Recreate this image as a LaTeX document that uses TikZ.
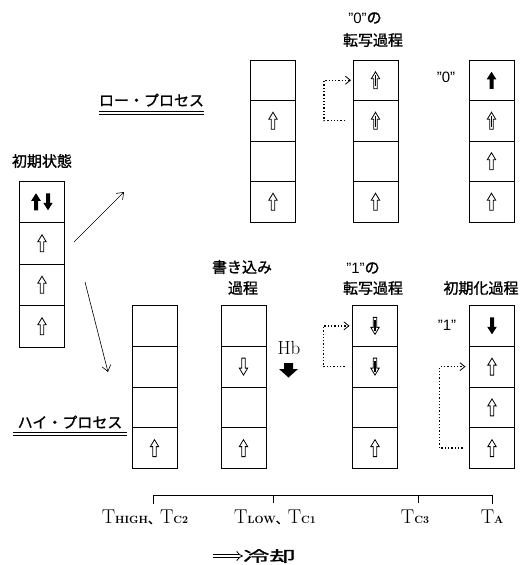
\documentclass[tikz,border=0pt]{standalone}
\usepackage{fontspec}
\newfontfamily\jp[FakeBold=1.2]{Noto Sans CJK JP}
\newfontfamily\qs{Liberation Sans}
\usetikzlibrary{arrows.meta}
\newcommand\cellcol[4]{%
  \foreach \i in {1,...,4} {\node[cell, minimum height=#4 pt] (#1-\i) at (#2, {#3+(\i-0.5)*#4}) {};}}
\newcommand\subsc[1]{{\fontsize{10.5}{10.5}\selectfont\bfseries #1}}
\tikzset{
  cell/.style={draw, line width=0.8pt, minimum width=45pt, inner sep=0pt, outer sep=0pt},
  jlab/.style={font=\jp\fontsize{15}{17}\selectfont, inner sep=0pt},
  tlab/.style={font=\fontsize{20}{20}\selectfont, inner sep=0pt},
  barb/.style={-{Straight Barb[length=6pt,width=9pt]}, line width=0.6pt},
  dotarr/.style={dotted, line width=1.3pt, -{Straight Barb[length=5pt,width=8pt,line width=0.8pt]}},
  pics/hblk/.style={code={\filldraw[fill=white,draw=black,line width=0.8pt,line join=miter]
     (0,-8.5)--(4.2,-1.5)--(1.7,-1.5)--(1.7,8.5)--(-1.7,8.5)--(-1.7,-1.5)--(-4.2,-1.5)--cycle;}},
  pics/mblk/.style={code={\filldraw[fill=white,draw=black,line width=0.8pt,line join=miter]
     (0,-8.5)--(4.2,-1.5)--(1.7,-1.5)--(1.7,8.5)--(-1.7,8.5)--(-1.7,-1.5)--(-4.2,-1.5)--cycle;
     \draw[line width=1.3pt] (0,-5)--(0,6);}},
  pics/sblk/.style={code={\fill[black]
     (0,-8.5)--(4.8,-1)--(2,-1)--(2,8.5)--(-2,8.5)--(-2,-1)--(-4.8,-1)--cycle;}}
}
\begin{document}
\begin{tikzpicture}[x=1pt,y=-1pt]
\useasboundingbox (0,0) rectangle (529,565);
% columns
\cellcol{I}{42}{181}{41.5}
\cellcol{LA}{273}{60}{40.5}
\cellcol{LB}{375.5}{60}{40.5}
\cellcol{LC}{491.5}{60}{40.5}
\cellcol{HA}{154.5}{305.5}{40.75}
\cellcol{HB}{243.5}{305.5}{40.75}
\cellcol{HC}{375}{305.5}{40.75}
\cellcol{HD}{492}{305.5}{40.75}
% arrows in cells
\pic at ([xshift=-6pt]I-1.center) {sblk};
\pic[rotate=180] at ([xshift=6pt]I-1.center) {sblk};
\pic at (I-2) {hblk};
\pic at (I-3) {hblk};
\pic at (I-4) {hblk};
\pic at (LA-2) {hblk};
\pic at (LA-4) {hblk};
\pic at (LB-1) {mblk};
\pic at (LB-2) {mblk};
\pic at (LB-4) {hblk};
\pic at (LC-1) {sblk};
\pic at (LC-2) {mblk};
\pic at (LC-3) {hblk};
\pic at (LC-4) {hblk};
\pic at (HA-4) {hblk};
\pic[rotate=180] at (HB-2) {hblk};
\pic at (HB-4) {hblk};
\pic[rotate=180] at (HC-1) {mblk};
\pic[rotate=180] at (HC-2) {mblk};
\pic at (HC-4) {hblk};
\pic[rotate=180] at (HD-1) {sblk};
\pic at (HD-2) {hblk};
\pic at (HD-3) {hblk};
\pic at (HD-4) {hblk};
% labels
\node[jlab] (init) at (42,161) {初期状態};
\node[jlab] (low) at (151.5,100) {ロー・プロセス};
\draw[line width=0.6pt] (99,111.5) -- (204,111.5);
\draw[line width=0.6pt] (99,114.3) -- (204,114.3);
\node[jlab] (high) at (70,422) {ハイ・プロセス};
\draw[line width=0.6pt] (13,432) -- (127,432);
\draw[line width=0.6pt] (13,434.8) -- (127,434.8);
\node[jlab] (z0a) at (365,18) {{\qs ”0”}の};
\node[jlab] (z0b) at (373,40) {転写過程};
\node[jlab] (z0) at (446,77) {\qs ”0”};
\node[jlab] (wa) at (242,267) {書き込み};
\node[jlab] (wb) at (243,288) {過程};
\node[jlab] (o1a) at (363,268) {{\qs ”1”}の};
\node[jlab] (o1b) at (373,288) {転写過程};
\node[jlab] (ini) at (481,288) {初期化過程};
\node[jlab] (o1) at (447,325) {\qs ”1”};
\node[tlab, font=\fontsize{19}{19}\selectfont] (hb) at (289,348) {Hb};
\fill[black] (284,363) -- (293,363) -- (293,369) -- (298,369) -- (288.5,377.5) -- (279,369) -- (284,369) -- cycle;
% main arrows
\coordinate (a1s) at (74,242);
\coordinate (a1e) at (124,192);
\coordinate (a2s) at (85,282);
\coordinate (a2e) at (108,372);
\draw[barb] (a1s) -- (a1e);
\draw[barb] (a2s) -- (a2e);
% dotted transfers
\draw[dotarr] ([xshift=-8pt]LB-2.west) -- ++(-21,0) |- ([xshift=-2pt]LB-1.west);
\draw[dotarr] ([xshift=-8pt]HC-2.west) -- ++(-21,0) |- ([xshift=-3pt]HC-1.west);
\draw[dotarr] ([xshift=-7pt]HD-4.west) -- ++(-23,0) |- ([xshift=-4pt]HD-2.west);
% timeline
\coordinate (t1) at (153,495);
\coordinate (t2) at (273,495);
\coordinate (t3) at (418,495);
\coordinate (t4) at (492,495);
\draw[line width=1pt] ([yshift=-9pt]t1) -- (t1) -- (t4) -- ([yshift=-9pt]t4);
\draw[line width=1pt] (t2) -- ([yshift=-8pt]t2);
\draw[line width=1pt] (t3) -- ([yshift=-8pt]t3);
\node[tlab] (l1) at (145,517) {T\subsc{HIGH}{\jp\fontsize{12}{12}\selectfont 、}T\subsc{C2}};
\node[tlab] (l2) at (275,517) {T\subsc{LOW}{\jp\fontsize{12}{12}\selectfont 、}T\subsc{C1}};
\node[tlab] (l3) at (415,517) {T\subsc{C3}};
\node[tlab] (l4) at (492,517) {T\subsc{A}};
\coordinate (cs) at (213,556);
\node[inner sep=0pt, anchor=west] (cool) at (243,556) {\scalebox{1.75}[1]{\jp\fontsize{15}{15}\selectfont 冷却}};
\draw[double, double distance=2.6pt, line width=0.8pt, -{Implies}] (cs) -- (cool.west);
\end{tikzpicture}
\end{document}
